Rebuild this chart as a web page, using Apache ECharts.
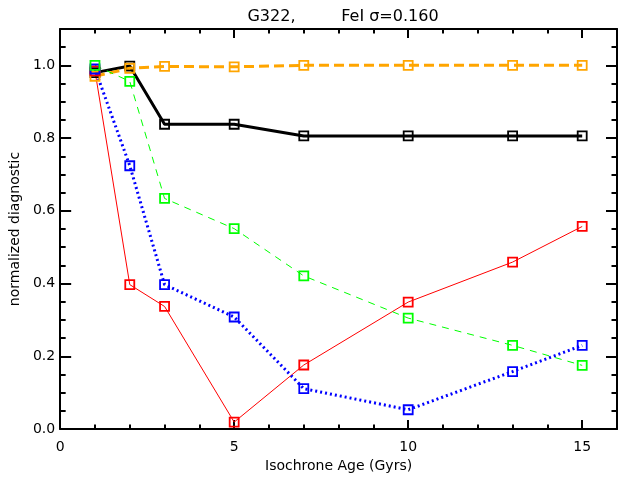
<!DOCTYPE html>
<html>
<head>
<meta charset="utf-8">
<script src="https://cdn.jsdelivr.net/npm/echarts@6/dist/echarts.min.js"></script>
<style>
  html, body { margin: 0; padding: 0; background: #fff; }
  #chart { width: 620px; height: 478px; }
</style>
</head>
<body>
<div id="chart"></div>
<script>
// Isochrone ages (Gyr) at which each diagnostic was evaluated
var ages = [1, 2, 3, 5, 7, 10, 13, 15];

// Normalized diagnostic values per series
var blackVals  = [0.980, 0.998, 0.838, 0.838, 0.806, 0.806, 0.806, 0.806];
var orangeVals = [0.970, 0.992, 0.997, 0.996, 1.000, 1.000, 1.000, 1.000];
var redVals    = [0.985, 0.397, 0.337, 0.019, 0.176, 0.349, 0.459, 0.557];
var blueVals   = [0.990, 0.724, 0.397, 0.308, 0.111, 0.053, 0.158, 0.230];
var greenVals  = [1.000, 0.956, 0.634, 0.551, 0.421, 0.305, 0.230, 0.175];

var xMajorTicks = [0, 5, 10, 15];
var yMajorTicks = [0.0, 0.2, 0.4, 0.6, 0.8, 1.0];

var FONT = '"DejaVu Sans", "Liberation Sans", sans-serif';

function pairs(vals) {
  return ages.map(function (a, i) { return [a, vals[i]]; });
}

function makeSeries(name, vals, color, width, type) {
  return {
    name: name,
    type: 'line',
    data: pairs(vals),
    xAxisIndex: 0,
    yAxisIndex: 0,
    symbol: 'rect',
    symbolSize: 9,
    showAllSymbol: true,
    lineStyle: { color: color, width: width, type: type },
    itemStyle: { color: 'rgba(0,0,0,0)', borderColor: color, borderWidth: 1.8 },
    emphasis: { disabled: true },
    animation: false
  };
}

function xAxisDef(pos, interval, tickLen, showLabels, showLine) {
  return {
    type: 'value', position: pos, min: 0, max: 16, interval: interval,
    splitLine: { show: false },
    axisLine: { show: showLine, onZero: false, lineStyle: { color: '#000', width: 2 } },
    axisTick: { show: true, inside: true, length: tickLen, lineStyle: { color: '#000', width: 2 } },
    axisLabel: {
      show: showLabels, margin: 11, color: '#000', fontSize: 14, fontFamily: FONT,
      formatter: function (v) { return xMajorTicks.indexOf(v) >= 0 ? String(v) : ''; }
    }
  };
}

function yAxisDef(pos, interval, tickLen, showLabels, showLine) {
  return {
    type: 'value', position: pos, min: 0, max: 1.1, interval: interval,
    splitLine: { show: false },
    axisLine: { show: showLine, onZero: false, lineStyle: { color: '#000', width: 2 } },
    axisTick: { show: true, inside: true, length: tickLen, lineStyle: { color: '#000', width: 2 } },
    axisLabel: {
      show: showLabels, margin: 5, color: '#000', fontSize: 14, fontFamily: FONT,
      formatter: function (v) {
        for (var i = 0; i < yMajorTicks.length; i++) {
          if (Math.abs(v - yMajorTicks[i]) < 1e-6) return yMajorTicks[i].toFixed(1);
        }
        return '';
      }
    }
  };
}

var xMain = xAxisDef('bottom', 5, 9, true, true);
xMain.name = 'Isochrone Age (Gyrs)';
xMain.nameLocation = 'middle';
xMain.nameGap = 27;
xMain.nameTextStyle = { color: '#000', fontSize: 14, fontFamily: FONT };

var yMain = yAxisDef('left', 0.2, 11, true, true);
yMain.name = 'normalized diagnostic';
yMain.nameLocation = 'middle';
yMain.nameRotate = 90;
yMain.nameGap = 35;
yMain.nameTextStyle = { color: '#000', fontSize: 14, fontFamily: FONT };

var chart = echarts.init(document.getElementById('chart'), null, { renderer: 'canvas' });
chart.setOption({
  animation: false,
  backgroundColor: '#fff',
  title: {
    text: 'G322,         FeI \u03c3=0.160',
    left: 338, top: 4, textAlign: 'center',
    textStyle: { color: '#000', fontSize: 16, fontWeight: 'normal', fontFamily: FONT }
  },
  grid: { left: 58, top: 29, width: 563, height: 400, containLabel: false },
  xAxis: [
    xMain,
    xAxisDef('bottom', 1, 4.5, false, false),
    xAxisDef('top', 5, 9, false, true),
    xAxisDef('top', 1, 4.5, false, false)
  ],
  yAxis: [
    yMain,
    yAxisDef('left', 0.05, 5.5, false, false),
    yAxisDef('right', 0.2, 11, false, true),
    yAxisDef('right', 0.05, 5.5, false, false)
  ],
  series: [
    makeSeries('black', blackVals, '#000000', 3, 'solid'),
    makeSeries('orange', orangeVals, '#FFA500', 3, [10, 5]),
    makeSeries('red', redVals, '#FF0000', 1, 'solid'),
    makeSeries('blue', blueVals, '#0000FF', 3, [2, 3]),
    makeSeries('green', greenVals, '#00FF00', 1, [7, 6])
  ]
});
</script>
</body>
</html>
